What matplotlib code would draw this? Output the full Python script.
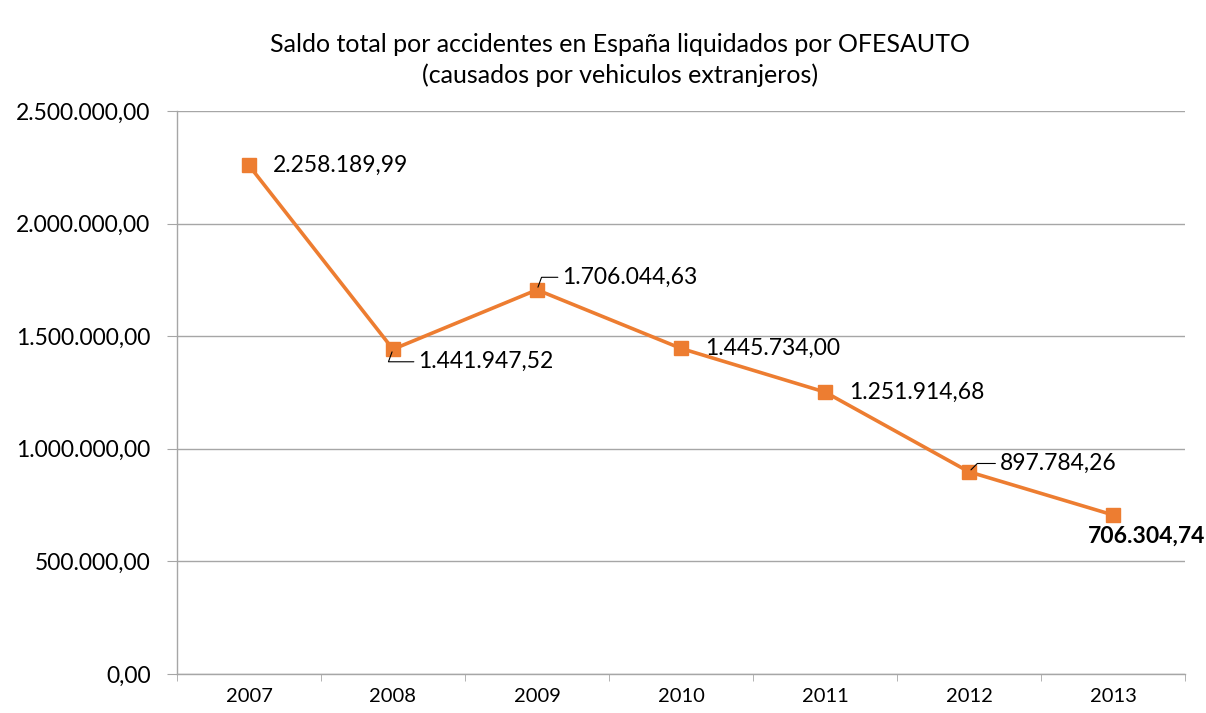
import matplotlib
matplotlib.use("Agg")
import matplotlib.pyplot as plt
from matplotlib.ticker import FuncFormatter, FixedLocator

plt.rcParams['font.family'] = ['Lato', 'DejaVu Sans']

years = ["2007", "2008", "2009", "2010", "2011", "2012", "2013"]
values = [2258189.99, 1441947.52, 1706044.63, 1445734.00, 1251914.68, 897784.26, 706304.74]
labels = ["2.258.189,99", "1.441.947,52", "1.706.044,63", "1.445.734,00",
          "1.251.914,68", "897.784,26", "706.304,74"]

def es_fmt(v, pos=None):
    s = f"{v:,.2f}"
    return s.replace(",", "X").replace(".", ",").replace("X", ".")

color = "#ED7D31"
grid_c = "#A6A6A6"

fig = plt.figure(figsize=(12.06, 7.13), dpi=100)
ax = fig.add_axes([177/1206, 1-674/713, (1185-177)/1206, (674-111)/713])

x = list(range(len(years)))
ax.plot(x, values, color=color, lw=2.6, marker='s', markersize=10, zorder=3)

ax.set_xlim(-0.5, len(years)-0.5)
ax.set_ylim(0, 2500000)
ax.set_yticks([0, 500000, 1000000, 1500000, 2000000, 2500000])
ax.yaxis.set_major_formatter(FuncFormatter(es_fmt))
ax.set_xticks(x)
ax.set_xticklabels(years)
ax.xaxis.set_minor_locator(FixedLocator([i - 0.5 for i in range(len(years)+1)]))

ax.grid(axis='y', color=grid_c, lw=1)
ax.set_axisbelow(True)
for s in ['top', 'right']:
    ax.spines[s].set_visible(False)
for s in ['left', 'bottom']:
    ax.spines[s].set_color(grid_c)
    ax.spines[s].set_linewidth(1)

ax.tick_params(axis='y', length=7, color=grid_c, labelsize=16.5, pad=12, labelcolor='black')
ax.tick_params(axis='x', which='major', length=0, labelsize=14.5, pad=10, labelcolor='black')
ax.tick_params(axis='x', which='minor', length=5, color=grid_c)

# data labels
fs = 16.5
# 2007: right
ax.annotate(labels[0], (0, values[0]), xytext=(17, 0), textcoords='offset points',
            ha='left', va='center', fontsize=fs)
# 2008: below right with leader
ax.annotate(labels[1], (1, values[1]), xytext=(18, -9), textcoords='offset points',
            ha='left', va='center', fontsize=fs,
            arrowprops=dict(arrowstyle='-', color='black', lw=0.8, shrinkA=1, shrinkB=2,
                            relpos=(0, 0.5),
                            connectionstyle='angle,angleA=0,angleB=70,rad=0'))
# 2009: above right with leader
ax.annotate(labels[2], (2, values[2]), xytext=(18, 9), textcoords='offset points',
            ha='left', va='center', fontsize=fs,
            arrowprops=dict(arrowstyle='-', color='black', lw=0.8, shrinkA=1, shrinkB=2,
                            relpos=(0, 0.5),
                            connectionstyle='angle,angleA=0,angleB=70,rad=0'))
# 2010, 2011: right
ax.annotate(labels[3], (3, values[3]), xytext=(17, 0), textcoords='offset points',
            ha='left', va='center', fontsize=fs)
ax.annotate(labels[4], (4, values[4]), xytext=(17, 0), textcoords='offset points',
            ha='left', va='center', fontsize=fs)
# 2012: above right with leader
ax.annotate(labels[5], (5, values[5]), xytext=(22, 6), textcoords='offset points',
            ha='left', va='center', fontsize=fs,
            arrowprops=dict(arrowstyle='-', color='black', lw=0.8, shrinkA=1, shrinkB=2,
                            relpos=(0, 0.5),
                            connectionstyle='angle,angleA=0,angleB=45,rad=0'))
# 2013: below, bold
ax.annotate(labels[6], (6, values[6]), xytext=(24, -15), textcoords='offset points',
            ha='center', va='center', fontsize=fs, fontweight='bold')

fig.text(620/1206, 1-60/713,
         "Saldo total por accidentes en España liquidados por OFESAUTO\n(causados por vehiculos extranjeros)",
         ha='center', va='center', fontsize=18, linespacing=1.35)

fig.savefig("out.png", dpi=100)
